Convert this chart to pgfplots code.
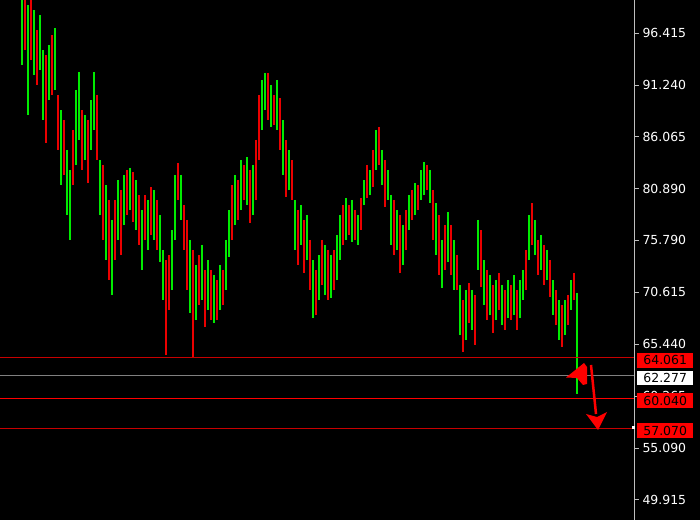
\documentclass[border=0pt]{standalone}
\usepackage{pgfplots}
\usepackage{pgfplotstable}
\pgfplotsset{compat=1.18}
\usepackage{fontspec}
\setmainfont{DejaVu Sans}
\definecolor{barG}{RGB}{0,235,0}
\definecolor{barR}{RGB}{235,0,0}
\definecolor{lvlR}{RGB}{200,0,0}
\definecolor{boxR}{RGB}{255,0,0}
\definecolor{axg}{RGB}{190,190,190}

\pgfplotstableread{
x h l
22 100.20 93.23
28 99.20 88.25
34 98.70 92.23
40 98.21 92.73
43 94.72 87.75
49 95.22 89.74
55 96.91 90.74
61 88.74 81.27
67 84.76 78.29
70 82.77 75.80
76 90.74 83.27
79 92.53 85.76
85 88.25 83.76
91 89.74 84.76
94 92.53 86.75
100 83.76 78.29
106 81.27 73.80
112 77.79 70.32
118 81.77 75.80
124 82.27 77.29
130 82.97 78.78
136 81.77 76.79
142 78.78 72.81
148 79.78 74.80
154 80.78 75.80
160 78.29 73.60
163 74.80 69.82
172 76.79 70.82
175 82.27 75.80
181 82.27 77.79
190 75.80 68.52
196 73.31 67.83
202 75.30 69.82
208 73.80 68.82
214 72.31 67.53
220 73.31 68.82
226 75.80 70.82
229 78.78 74.10
235 82.27 77.29
241 83.76 78.78
247 84.06 79.28
253 83.27 78.29
262 91.73 86.75
265 92.43 88.74
271 91.23 87.05
277 91.73 86.75
283 87.75 82.27
289 84.76 80.78
295 79.78 74.80
301 79.28 75.30
307 78.29 73.80
313 73.80 68.03
319 74.30 69.82
325 75.30 70.32
331 74.30 70.02
337 76.29 71.81
340 78.29 73.80
346 79.98 75.80
352 79.78 75.60
358 78.29 75.30
364 81.77 79.28
370 82.77 80.28
376 86.75 82.77
382 84.76 81.27
388 82.77 79.78
391 80.28 75.30
397 78.78 74.80
403 77.29 73.31
409 80.28 76.79
415 81.47 78.29
421 82.77 79.78
424 83.56 80.28
430 82.77 79.48
436 79.48 74.30
442 75.80 71.02
448 78.58 73.60
454 75.80 70.82
460 71.31 66.33
466 70.82 65.84
472 70.82 66.83
478 77.79 72.81
484 73.80 69.32
490 72.31 68.33
496 71.81 67.83
502 71.31 67.33
508 71.81 68.03
514 72.31 68.33
520 71.81 68.03
523 72.81 69.82
529 78.29 73.80
535 77.79 74.30
541 76.29 72.81
547 74.80 71.81
553 71.81 68.33
559 69.82 65.84
565 69.82 66.33
571 71.81 68.82
577 70.52 60.46
}\greenbars

\pgfplotstableread{
x h l
25 99.70 94.72
31 100.20 93.72
37 96.71 91.23
46 94.22 85.46
52 96.21 90.24
58 90.24 84.76
64 87.75 82.27
73 86.75 81.27
82 88.74 82.77
88 87.75 81.47
97 90.24 83.76
103 83.27 75.80
109 79.78 71.81
115 79.78 73.80
121 80.78 74.30
127 82.77 78.29
133 82.57 77.59
139 80.28 75.30
145 80.28 75.80
151 81.07 76.29
157 79.78 74.80
166 73.80 64.34
169 74.30 68.82
178 83.47 79.78
184 79.28 74.80
187 77.79 70.82
193 74.80 64.14
199 74.30 69.32
205 72.81 67.13
211 72.81 67.83
217 71.81 67.83
223 72.81 69.32
232 81.27 75.80
238 81.77 77.79
244 83.27 79.78
250 82.77 77.49
256 85.76 79.78
259 90.24 83.76
268 92.43 87.75
274 90.24 87.25
280 89.94 84.76
286 85.76 80.08
292 83.76 79.78
298 78.78 73.31
304 77.79 72.51
310 75.80 70.82
316 72.81 68.33
322 75.80 71.31
328 74.80 69.82
334 74.80 70.82
343 79.28 75.30
349 79.28 76.29
355 78.78 75.80
361 79.98 76.79
367 83.27 79.98
373 84.76 81.07
379 87.05 83.27
385 83.76 79.08
394 79.78 74.30
400 78.29 72.51
406 78.78 74.80
412 80.78 77.79
418 81.27 78.78
427 83.27 80.78
433 80.78 75.80
439 78.29 72.31
445 77.29 72.81
451 77.29 72.31
457 74.30 70.82
463 69.82 64.64
469 71.51 67.53
475 70.32 65.34
481 76.79 71.11
487 72.81 67.83
493 71.31 66.53
499 72.51 68.82
505 70.82 66.83
511 71.31 67.83
517 70.82 66.83
526 74.80 70.82
532 79.48 75.30
538 75.80 72.31
544 75.30 71.31
550 73.80 70.12
556 70.82 67.33
562 69.32 65.14
568 70.32 67.33
574 72.51 69.82
}\redbars

\begin{document}
\begin{tikzpicture}[x=1bp,y=1bp]
\fill[black] (0,0) rectangle (700,520);
\begin{axis}[
  at={(0,0)}, anchor=south west,
  scale only axis, width=634bp, height=520bp,
  xmin=0, xmax=634, ymin=47.91, ymax=99.70,
  axis x line=none,
  axis y line=right,
  y axis line style={draw=axg, line width=0.8bp, -},
  tick align=outside,
  major tick length=5bp,
  ytick style={draw=axg, line width=0.8bp},
  ytick={49.915,55.090,60.265,65.440,70.615,75.790,80.890,86.065,91.240,96.415},
  yticklabels={49.915,55.090,60.265,65.440,70.615,75.790,80.890,86.065,91.240,96.415},
  yticklabel style={text=white, font=\fontsize{12.5}{14}\selectfont, anchor=west},
]
\addplot[barG, mark=none, forget plot,
  quiver={u=0, v={\thisrow{l}-\thisrow{h}}, every arrow/.append style={line width=2.5bp}}, -]
  table[x=x, y=h] {\greenbars};
\addplot[barR, mark=none, forget plot,
  quiver={u=0, v={\thisrow{l}-\thisrow{h}}, every arrow/.append style={line width=2.5bp}}, -]
  table[x=x, y=h] {\redbars};
\draw[lvlR, line width=0.9bp] (axis cs:0,64.061) -- (axis cs:634,64.061);
\draw[gray, line width=0.9bp] (axis cs:0,62.277) -- (axis cs:634,62.277);
\draw[boxR, line width=1bp] (axis cs:0,60.040) -- (axis cs:634,60.040);
\draw[lvlR, line width=0.9bp] (axis cs:0,57.070) -- (axis cs:634,57.070);
\coordinate (p1) at (axis cs:634,64.061);
\coordinate (p2) at (axis cs:634,62.277);
\coordinate (p3) at (axis cs:634,60.040);
\coordinate (p4) at (axis cs:634,57.070);
\end{axis}
\tikzset{pbox/.style={anchor=west, minimum width=56bp, minimum height=14.5bp, inner sep=0pt,
  font=\fontsize{12.5}{14}\selectfont, xshift=3bp, yshift=-2.5bp}}
\node[pbox, fill=boxR, text=black] at (p1) {64.061};
\node[pbox, fill=white, text=black] at (p2) {62.277};
\node[pbox, fill=boxR, text=black] at (p3) {60.040};
\node[pbox, fill=boxR, text=black] at (p4) {57.070};
% annotation arrows
\fill[boxR] (584,157) -- (566,142.5) -- (577,142) -- (583,135) -- (587,136) -- (587,153) -- cycle;
\draw[boxR, line width=2.5bp] (591,155) -- (596,106);
\fill[boxR] (586,106) -- (598,90) -- (607,108) -- (597,103) -- cycle;
\fill[white] (631.5,90.5) rectangle (634.5,93.5);
\pgfresetboundingbox
\useasboundingbox (0,0) rectangle (700,520);
\end{tikzpicture}
\end{document}
